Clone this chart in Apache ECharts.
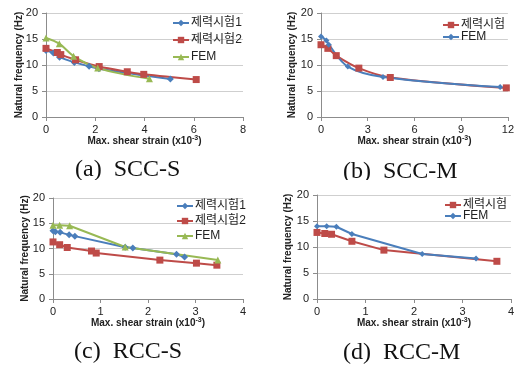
<!DOCTYPE html>
<html>
<head>
<meta charset="utf-8">
<script src="https://cdn.jsdelivr.net/npm/echarts@6/dist/echarts.min.js"></script>
<style>
  html, body { margin: 0; padding: 0; background: #fff; }
  #wrap { position: relative; width: 517px; height: 365px; overflow: hidden; }
  .panel { position: absolute; }
</style>
</head>
<body>
<div id="wrap">
  <div id="pa" class="panel" style="left:0;top:0;width:258px;height:182px"></div>
  <div id="pb" class="panel" style="left:258px;top:0;width:259px;height:182px"></div>
  <div id="pc" class="panel" style="left:0;top:180px;width:258px;height:185px"></div>
  <div id="pd" class="panel" style="left:258px;top:180px;width:259px;height:185px"></div>
</div>
<script>
// [strain (x10^-3), frequency (Hz)]
const sccS_test1 = [[0, 12.8], [0.3, 12.3], [0.55, 11.5], [1.15, 10.5], [1.75, 9.75], [2.15, 9.3], [5.05, 7.3]];
const sccS_test2 = [[0, 13.2], [0.46, 12.4], [0.6, 12.0], [1.2, 11.0], [2.16, 9.7], [3.3, 8.7], [3.97, 8.2], [6.1, 7.2]];
const sccS_fem = [[0, 15.2], [0.54, 14.1], [1.12, 11.7], [2.1, 9.4], [4.2, 7.35]];

const sccM_test = [[0, 13.9], [0.44, 13.2], [0.98, 11.8], [2.43, 9.4], [4.45, 7.6], [11.9, 5.6]];
const sccM_fem = [[0, 15.5], [0.35, 14.7], [0.5, 13.9], [1.72, 9.7], [3.98, 7.7], [11.5, 5.75]];

const rccS_test1 = [[0, 13.5], [0.05, 13.3], [0.15, 13.2], [0.34, 12.7], [0.46, 12.45], [1.52, 10.25], [1.68, 10.1], [2.6, 8.85], [2.77, 8.3]];
const rccS_test2 = [[0, 11.3], [0.14, 10.75], [0.3, 10.2], [0.81, 9.5], [0.91, 9.1], [2.25, 7.7], [3.02, 7.1], [3.45, 6.7]];
const rccS_fem = [[0, 14.6], [0.14, 14.6], [0.35, 14.5], [1.52, 10.3], [3.47, 7.7]];

const rccM_test = [[0, 12.8], [0.16, 12.6], [0.3, 12.45], [0.72, 11.1], [1.38, 9.4], [3.71, 7.25]];
const rccM_fem = [[0, 14.0], [0.2, 14.0], [0.4, 13.9], [0.72, 12.5], [2.17, 8.65], [3.28, 7.8]];

const yTicks = { min: 0, max: 20, interval: 5 };
const captions = ['(a)  SCC-S', '(b)  SCC-M', '(c)  RCC-S', '(d)  RCC-M'];

const BLUE = '#4a7ebb';
const RED = '#be4b48';
const GREEN = '#98b954';
const KFONT = '"Liberation Sans", "Noto Sans CJK KR", sans-serif';

function mkSeries(name, data, color, symbol, size, smooth) {
  return {
    name: name,
    type: 'line',
    data: data,
    smooth: smooth ? 0.35 : false,
    symbol: symbol,
    symbolSize: size,
    itemStyle: { color: color },
    lineStyle: { color: color, width: 2 },
    emphasis: { disabled: true }
  };
}

function drawPanel(el, cfg) {
  const chart = echarts.init(document.getElementById(el), null, { renderer: 'canvas' });
  const option = {
    animation: false,
    backgroundColor: '#fff',
    grid: cfg.grid,
    legend: {
      orient: 'vertical',
      left: cfg.legend.left,
      top: cfg.legend.top,
      itemWidth: 16,
      itemHeight: 8,
      itemGap: cfg.legend.gap,
      padding: 0,
      textStyle: { fontFamily: KFONT, fontSize: 12, lineHeight: 12, color: '#222', padding: [0, 0, 0, -3] },
      data: cfg.series.map(s => s.name)
    },
    xAxis: {
      type: 'value',
      min: 0,
      max: cfg.xMax,
      interval: cfg.xInt,
      name: '{a|Max. shear strain (x10}{s|-3}{a|)}',
      nameLocation: 'middle',
      nameGap: 18,
      nameMoveOverlap: false,
      nameTextStyle: {
        rich: {
          a: { fontFamily: 'Liberation Sans', fontWeight: 'bold', fontSize: 10, color: '#222' },
          s: { fontFamily: 'Liberation Sans', fontWeight: 'bold', fontSize: 7, color: '#222', verticalAlign: 'top', padding: [0, 0, 5, 0] }
        }
      },
      axisLine: { lineStyle: { color: '#8c8c8c' } },
      axisTick: { show: true, length: 4, lineStyle: { color: '#8c8c8c' } },
      axisLabel: { fontFamily: 'Liberation Sans', fontSize: 11, color: '#222', margin: 7 },
      splitLine: { show: false }
    },
    yAxis: {
      type: 'value',
      min: yTicks.min,
      max: yTicks.max,
      interval: yTicks.interval,
      name: 'Natural frequency (Hz)',
      nameLocation: 'middle',
      nameGap: cfg.yNameGap,
      nameMoveOverlap: false,
      nameTextStyle: { fontFamily: 'Liberation Sans', fontWeight: 'bold', fontSize: 10, color: '#222' },
      axisLine: { show: true, lineStyle: { color: '#8c8c8c' } },
      axisTick: { show: true, length: 4, lineStyle: { color: '#8c8c8c' } },
      axisLabel: { fontFamily: 'Liberation Sans', fontSize: 11, color: '#222', margin: 8 },
      splitLine: { show: true, lineStyle: { color: '#cfcfcf', width: 1 } }
    },
    graphic: [{
      type: 'text',
      left: cfg.capX - 54,
      top: cfg.capTop,
      style: {
        text: cfg.caption,
        fontFamily: '"Liberation Serif", "Times New Roman", serif',
        fontSize: 24,
        fill: '#111'
      }
    }],
    series: cfg.series
  };
  chart.setOption(option);
}

drawPanel('pa', {
  grid: { left: 46, right: 15, top: 13, height: 104 },
  xMax: 8, xInt: 2, yNameGap: 22,
  legend: { left: 172, top: 17, gap: 5 },
  capX: 129, capTop: 158, caption: captions[0],
  series: [
    mkSeries('제력시험1', sccS_test1, BLUE, 'diamond', 7, true),
    mkSeries('제력시험2', sccS_test2, RED, 'rect', 7, true),
    mkSeries('FEM', sccS_fem, GREEN, 'triangle', 7, true)
  ]
});

drawPanel('pb', {
  grid: { left: 63, right: 8, top: 13, height: 104 },
  xMax: 12, xInt: 3, yNameGap: 24,
  legend: { left: 184, top: 19, gap: 0 },
  capX: 139, capTop: 160, caption: captions[1],
  series: [
    mkSeries('제력시험', sccM_test, RED, 'rect', 7, true),
    mkSeries('FEM', sccM_fem, BLUE, 'diamond', 6, true)
  ]
});

drawPanel('pc', {
  grid: { left: 53, right: 15, top: 18, height: 101 },
  xMax: 4, xInt: 1, yNameGap: 23,
  legend: { left: 176, top: 20, gap: 3 },
  capX: 128, capTop: 160, caption: captions[2],
  series: [
    mkSeries('제력시험1', rccS_test1, BLUE, 'diamond', 7, false),
    mkSeries('제력시험2', rccS_test2, RED, 'rect', 7, false),
    mkSeries('FEM', rccS_fem, GREEN, 'triangle', 7, false)
  ]
});

drawPanel('pd', {
  grid: { left: 59, right: 6, top: 15, height: 104 },
  xMax: 4, xInt: 1, yNameGap: 24,
  legend: { left: 186, top: 19, gap: -1 },
  capX: 139, capTop: 161, caption: captions[3],
  series: [
    mkSeries('제력시험', rccM_test, RED, 'rect', 7, false),
    mkSeries('FEM', rccM_fem, BLUE, 'diamond', 6, false)
  ]
});
</script>
</body>
</html>
